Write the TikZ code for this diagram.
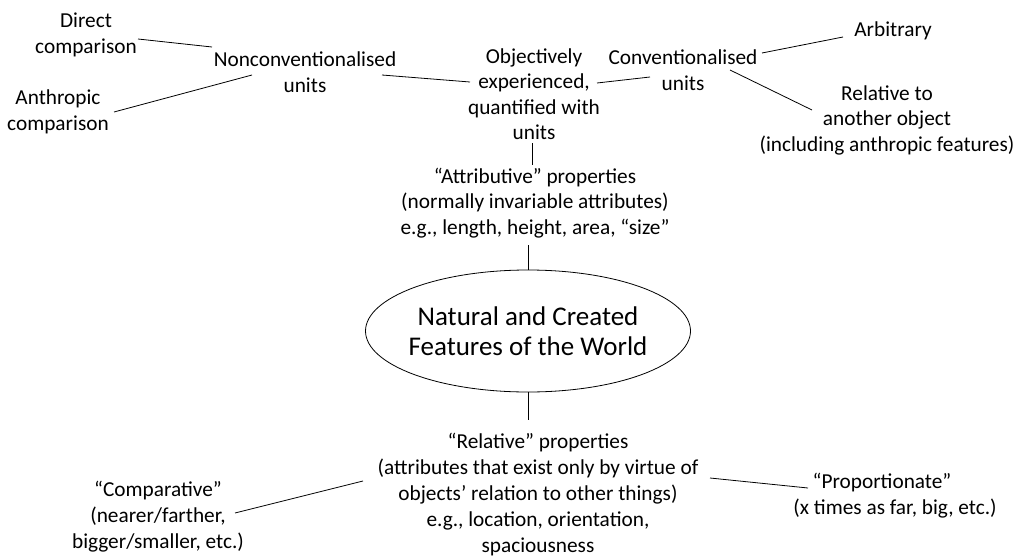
\documentclass[tikz,border=0pt]{standalone}
\usepackage{fontspec}
\setmainfont{Carlito}
\usetikzlibrary{calc,shapes.geometric}
\begin{document}
\begin{tikzpicture}[x=1pt,y=-1pt,
  lbl/.style={align=center,inner sep=0pt,font=\fontsize{21.3}{25.5}\selectfont},
  lblb/.style={lbl,font=\fontsize{21.3}{26}\selectfont},
  big/.style={ellipse,draw,line width=0.8pt,align=center,inner xsep=-20pt,inner ysep=0pt,
    minimum width=325pt,minimum height=122pt,font=\fontsize{27}{30}\selectfont},
  conn/.style={line width=0.8pt}]
\useasboundingbox (0,0) rectangle (1013,557);
\node[lbl] (direct) at (86,35) {Direct\\comparison};
\node[lbl] (nonconv) at (305,72) {Nonconventionalised\\units};
\node[lbl] (anthropic) at (58,112) {Anthropic\\comparison};
\node[lbl] (objective) at (534,94) {Objectively\\experienced,\\quantified with\\units};
\node[lbl] (conv) at (683,70) {Conventionalised\\units};
\node[lbl] (arbitrary) at (893,31) {Arbitrary};
\node[lbl] (relto) at (887,120) {Relative to\\another object\\(including anthropic features)};
\node[lbl] (attrib) at (535,203) {“Attributive” properties\\(normally invariable attributes)\\e.g., length, height, area, “size”};
\node[big] (world) at (528,331) {Natural and Created\\Features of the World};
\node[lblb] (relative) at (538,495) {“Relative” properties\\(attributes that exist only by virtue of\\objects’ relation to other things)\\e.g., location, orientation,\\spaciousness};
\node[lblb] (comparative) at (158,517) {“Comparative”\\(nearer/farther,\\bigger/smaller, etc.)};
\node[lblb] (proportionate) at (895,496) {“Proportionate”\kern26pt\\(x times as far, big, etc.)};

\draw[conn] ($(direct)+(52,4)$) -- ($(nonconv)+(-93,-25)$);
\draw[conn] ($(anthropic)+(56,0)$) -- ($(nonconv)+(-53,3)$);
\draw[conn] ($(nonconv)+(77,3)$) -- ($(objective)+(-64,-12)$);
\draw[conn] ($(objective)+(63,-11)$) -- ($(conv)+(-33,7)$);
\draw[conn] ($(conv)+(79,-17)$) -- ($(arbitrary)+(-50,6)$);
\draw[conn] ($(conv)+(47,0)$) -- ($(relto)+(-75,-10)$);
\draw[conn] ($(objective)+(-2,49)$) -- ($(attrib)+(-3,-38)$);
\draw[conn] ($(attrib)+(-7,42)$) -- (world.north);
\draw[conn] (world.south) -- ($(relative)+(-10,-75)$);
\draw[conn] ($(relative)+(-175,-14)$) -- ($(comparative)+(77,-4)$);
\draw[conn] ($(relative)+(172,-17)$) -- ($(proportionate)+(-87,-8)$);
\end{tikzpicture}
\end{document}
